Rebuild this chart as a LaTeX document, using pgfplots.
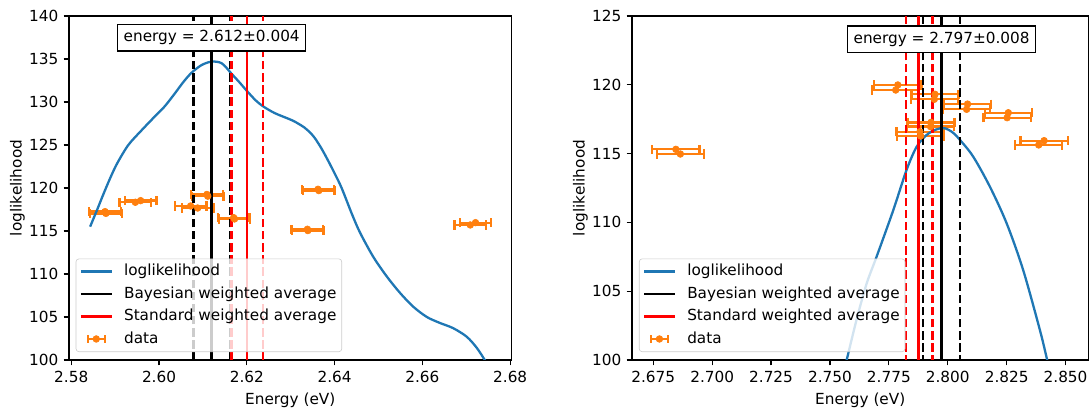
\documentclass[border=0pt]{standalone}
\usepackage{fontspec}
\setmainfont{DejaVu Sans}
\usepackage{pgfplots}
\usepackage{pgfplotstable}
\pgfplotsset{compat=1.18}
\definecolor{tabblue}{HTML}{1F77B4}
\definecolor{tabor}{HTML}{FF7F0E}

\pgfplotstableread{
x y
2.5843 115.5
2.5860 117.6
2.5875 119.5
2.5890 121.3
2.5905 122.9
2.5930 125.0
2.5960 126.7
2.5990 128.3
2.6013 129.5
2.6036 131.0
2.6055 132.3
2.6074 133.4
2.6097 134.3
2.6120 134.7
2.6143 134.5
2.6165 133.3
2.6183 132.3
2.6200 131.3
2.6220 130.2
2.6237 129.5
2.6264 128.7
2.6302 127.9
2.6320 127.4
2.6332 127.0
2.6345 126.4
2.6355 125.8
2.6370 124.6
2.6385 123.2
2.6400 121.7
2.6416 120.0
2.6440 116.9
2.6458 114.8
2.6488 112.0
2.6519 109.7
2.6549 107.8
2.6579 106.2
2.6610 105.0
2.6640 104.3
2.6670 103.7
2.6701 102.7
2.6724 101.4
2.6742 100.0
2.6750 99.3
}\curveA

\pgfplotstableread{
x y ex
2.5877 117.25 0.0036
2.5879 117.05 0.0036
2.5946 118.34 0.0036
2.5958 118.53 0.0036
2.6072 117.91 0.0036
2.6088 117.67 0.0036
2.6109 119.25 0.0036
2.6111 119.05 0.0036
2.6170 116.55 0.0036
2.6172 116.40 0.0036
2.6362 119.85 0.0036
2.6364 119.70 0.0036
2.6338 115.20 0.0036
2.6339 115.05 0.0036
2.6721 115.97 0.0036
2.6709 115.70 0.0036
}\dataA

\pgfplotstableread{
x y
2.7565 99.6
2.7571 100.00
2.7614 103.00
2.7656 105.57
2.7698 107.51
2.7769 110.90
2.7825 113.81
2.7868 115.50
2.7910 116.35
2.7950 116.75
2.7985 116.85
2.8020 116.55
2.8052 115.99
2.8108 114.78
2.8179 112.59
2.8250 109.93
2.8320 106.54
2.8391 102.18
2.8422 100.00
2.8432 99.3
}\curveB

\pgfplotstableread{
x y ex
2.6846 115.31 0.0100
2.6865 114.97 0.0100
2.7788 119.99 0.0100
2.7779 119.62 0.0100
2.7946 119.31 0.0100
2.7943 118.95 0.0100
2.8084 118.60 0.0100
2.8080 118.22 0.0100
2.8257 117.97 0.0100
2.8252 117.61 0.0100
2.7929 117.27 0.0100
2.7927 116.96 0.0100
2.7882 116.59 0.0100
2.7885 116.28 0.0100
2.8409 115.94 0.0100
2.8386 115.63 0.0100
}\dataB

\pgfplotsset{
  legblue/.style={legend image code/.code={\draw[tabblue,line width=1.5pt] (0pt,0pt)--(20pt,0pt); \path (27pt,0pt);}},
  legblack/.style={legend image code/.code={\draw[black,line width=1.5pt] (0pt,0pt)--(20pt,0pt); \path (27pt,0pt);}},
  legred/.style={legend image code/.code={\draw[red,line width=1.5pt] (0pt,0pt)--(20pt,0pt); \path (27pt,0pt);}},
  legdata/.style={legend image code/.code={
     \draw[tabor,line width=1.5pt] (4.5pt,0pt)--(15.5pt,0pt);
     \draw[tabor,line width=1.5pt] (4.5pt,-2.5pt)--(4.5pt,2.5pt);
     \draw[tabor,line width=1.5pt] (15.5pt,-2.5pt)--(15.5pt,2.5pt);
     \fill[tabor,fill opacity=1] (10pt,0pt) circle (2.2pt);
     \path (27pt,0pt);}},
  mpl/.style={
    scale only axis,
    axis line style={line width=0.8pt},
    tick align=outside, tick pos=left,
    major tick length=3.5pt,
    every tick/.style={black, line width=0.8pt},
    tick label style={font=\fontsize{10}{12}\selectfont},
    label style={font=\fontsize{10}{12}\selectfont},
    ylabel shift=-4pt,
    /pgf/number format/assume math mode=true,
    scaled ticks=false,
    xlabel={Energy (eV)}, ylabel={loglikelihood},
    legend style={at={(0.015,0.023)}, anchor=south west, draw=black!20,
      rounded corners=2pt, fill=white, fill opacity=0.8, text opacity=1, draw opacity=1,
      font=\fontsize{10}{12}\selectfont, inner sep=2.5pt, row sep=3pt,
      nodes={inner sep=1pt, text height=7.5pt, text depth=2.2pt}},
    legend cell align=left,
  },
  errp/.style={only marks, mark=*, mark size=2.2pt, color=tabor,
    mark options={fill=tabor, draw=tabor}, forget plot,
    error bars/.cd, x dir=both, x explicit, error mark=|,
    error bar style={line width=1.5pt, tabor},
    error mark options={line width=1.5pt, mark size=3pt, tabor}},
  vsolid/.style={line width=1.6pt, forget plot},
  vdash/.style={line width=1.6pt, dash pattern=on 5.55pt off 2.4pt, forget plot},
}

\begin{document}
\begin{tikzpicture}
\useasboundingbox (0,0) rectangle (714.1pt,268.3pt);
\begin{axis}[mpl, at={(45.2pt,32.7pt)}, anchor=south west,
  width=289.6pt, height=225.1pt,
  xmin=2.5795, xmax=2.6803, ymin=100, ymax=140,
  xtick={2.58,2.60,2.62,2.64,2.66,2.68},
  ytick={100,105,110,115,120,125,130,135,140},
  xticklabel style={/pgf/number format/.cd, fixed, fixed zerofill, precision=2},
]
\addlegendimage{legblue}\addlegendentry{loglikelihood}
\addlegendimage{legblack}\addlegendentry{Bayesian weighted average}
\addlegendimage{legred}\addlegendentry{Standard weighted average}
\addlegendimage{legdata}\addlegendentry{data}
\addplot[errp] table[x=x, y=y, x error=ex] {\dataA};
\addplot[tabblue, line width=1.5pt, forget plot, smooth] table[x=x,y=y] {\curveA};
\addplot[black, vdash] coordinates {(2.6078,90) (2.6078,150)};
\addplot[black, vdash] coordinates {(2.6162,90) (2.6162,150)};
\addplot[black, vsolid] coordinates {(2.6120,90) (2.6120,150)};
\addplot[red, vdash] coordinates {(2.6165,90) (2.6165,150)};
\addplot[red, vdash] coordinates {(2.6237,90) (2.6237,150)};
\addplot[red, vsolid] coordinates {(2.6201,90) (2.6201,150)};
\node[draw=black, line width=0.8pt, fill=white, inner sep=4pt, font=\fontsize{10}{12}\selectfont] at (axis cs:2.6120,137.5) {energy = 2.612±0.004};
\end{axis}

\begin{axis}[mpl, at={(413.7pt,32.7pt)}, anchor=south west,
  width=298.7pt, height=225.1pt,
  xmin=2.666, xmax=2.8597, ymin=100, ymax=125,
  xtick={2.675,2.700,2.725,2.750,2.775,2.800,2.825,2.850},
  ytick={100,105,110,115,120,125},
  xticklabel style={/pgf/number format/.cd, fixed, fixed zerofill, precision=3},
]
\addlegendimage{legblue}\addlegendentry{loglikelihood}
\addlegendimage{legblack}\addlegendentry{Bayesian weighted average}
\addlegendimage{legred}\addlegendentry{Standard weighted average}
\addlegendimage{legdata}\addlegendentry{data}
\addplot[errp] table[x=x, y=y, x error=ex] {\dataB};
\addplot[tabblue, line width=1.5pt, forget plot, smooth] table[x=x,y=y] {\curveB};
\addplot[black, vdash] coordinates {(2.7896,90) (2.7896,150)};
\addplot[black, vdash] coordinates {(2.8052,90) (2.8052,150)};
\addplot[black, vsolid] coordinates {(2.7974,90) (2.7974,150)};
\addplot[red, vdash] coordinates {(2.7822,90) (2.7822,150)};
\addplot[red, vdash] coordinates {(2.7936,90) (2.7936,150)};
\addplot[red, vsolid] coordinates {(2.7876,90) (2.7876,150)};
\node[draw=black, line width=0.8pt, fill=white, inner sep=4pt, font=\fontsize{10}{12}\selectfont] at (axis cs:2.7974,123.3) {energy = 2.797±0.008};
\end{axis}
\end{tikzpicture}
\end{document}
